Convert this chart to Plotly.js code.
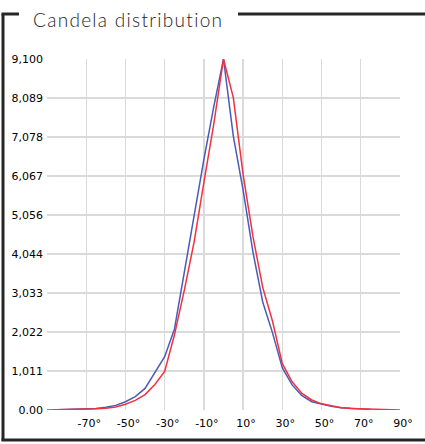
<!DOCTYPE html>
<html>
<head>
<meta charset="utf-8">
<script src="https://cdn.plot.ly/plotly-3.0.1.min.js"></script>
<style>
html,body{margin:0;padding:0;background:#fff;}
#chart{width:425px;height:444px;}
.annotation-text{letter-spacing:1.3px;}
</style>
</head>
<body>
<div id="chart"></div>
<script>
const blueAngles = [-85,-80,-75,-70,-65,-60,-55,-50,-45,-40,-35,-30,-25,-20,-15,-10,-5,0,5,10,15,20,25,30,35,40,45,50,55,60,65,70,75];
const blueValues = [5,10,20,30,40,70,120,215,345,560,970,1380,2100,3600,5100,6500,7850,9100,7100,5700,4100,2800,2000,1090,650,370,215,155,100,60,40,25,15];

const redAngles = [-90,-85,-80,-75,-70,-65,-60,-55,-50,-45,-40,-35,-30,-25,-20,-15,-10,-5,0,5,10,15,20,25,30,35,40,45,50,55,60,65,70,75,80,85,90];
const redValues = [0,3,5,10,20,30,45,80,150,250,400,660,1000,1950,3100,4350,5900,7400,9100,8100,6100,4500,3180,2300,1200,730,430,260,160,100,60,40,30,20,10,5,0];

const xTickVals = [-90,-70,-50,-30,-10,10,30,50,70,90];
const xTickText = ['','-70°','-50°','-30°','-10°','10°','30°','50°','70°','90°'];
const yTickVals = [0,1011,2022,3033,4044,5056,6067,7078,8089,9100];
const yTickText = ['0.00','1,011','2,022','3,033','4,044','5,056','6,067','7,078','8,089','9,100'];
const titleText = 'Candela distribution';

const traces = [
  {x: blueAngles, y: blueValues, type: 'scatter', mode: 'lines',
   line: {color: '#4a5cb8', width: 1.5}, hoverinfo: 'none'},
  {x: redAngles, y: redValues, type: 'scatter', mode: 'lines',
   line: {color: '#f2313f', width: 1.5}, hoverinfo: 'none'}
];

// frame positions in paper coordinates (plot area: x 47..400 px, y 59..410 px)
const px = v => (v - 47) / 353;
const py = v => (410 - v) / 351;
const frameColor = '#262626';

const layout = {
  width: 425, height: 444,
  margin: {l: 47, r: 25, t: 59, b: 34},
  paper_bgcolor: '#ffffff', plot_bgcolor: '#ffffff',
  showlegend: false,
  xaxis: {
    range: [-90, 90], tickmode: 'array', tickvals: xTickVals, ticktext: xTickText,
    showgrid: true, gridcolor: '#dadada', gridwidth: 1.3, zeroline: false,
    showline: false, ticks: '', ticklabelshift: 3, ticklabelstandoff: 5,
    tickfont: {family: 'DejaVu Sans', size: 11, color: '#000'}, fixedrange: true
  },
  yaxis: {
    range: [0, 9100], tickmode: 'array', tickvals: yTickVals, ticktext: yTickText,
    showgrid: true, gridcolor: '#dadada', gridwidth: 1.3, zeroline: false,
    showline: false, ticks: '', ticklabelstandoff: 3,
    tickfont: {family: 'DejaVu Sans', size: 11, color: '#000'}, fixedrange: true
  },
  shapes: [
    {type: 'line', xref: 'paper', yref: 'paper', x0: px(3), x1: px(3), y0: py(14), y1: py(441), line: {color: frameColor, width: 3}},
    {type: 'line', xref: 'paper', yref: 'paper', x0: px(1.5), x1: px(425), y0: py(440), y1: py(440), line: {color: frameColor, width: 3}},
    {type: 'line', xref: 'paper', yref: 'paper', x0: px(1.5), x1: px(19), y0: py(14), y1: py(14), line: {color: frameColor, width: 3}},
    {type: 'line', xref: 'paper', yref: 'paper', x0: px(238), x1: px(425), y0: py(14), y1: py(14), line: {color: frameColor, width: 3}}
  ],
  annotations: [
    {text: titleText, xref: 'paper', yref: 'paper', x: px(31), y: py(20),
     xanchor: 'left', yanchor: 'middle', showarrow: false,
     font: {family: 'Lato', size: 19, weight: 300, color: '#1e1e1e'}}
  ]
};

Plotly.newPlot('chart', traces, layout, {displayModeBar: false, staticPlot: true});
</script>
</body>
</html>
